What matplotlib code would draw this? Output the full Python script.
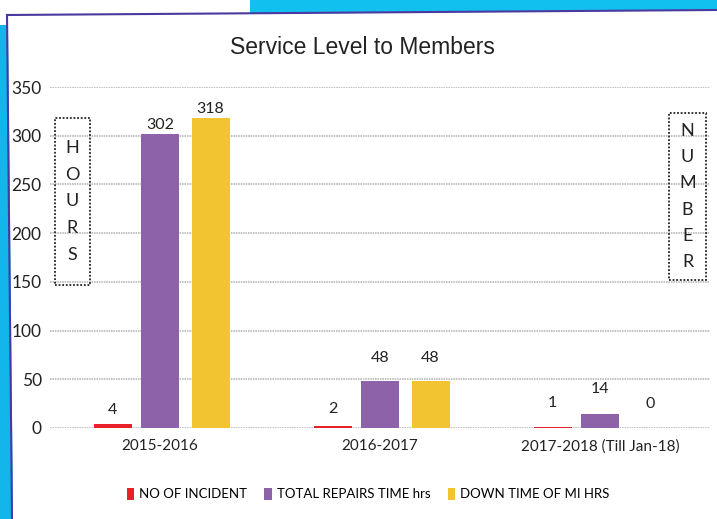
import matplotlib.pyplot as plt
from matplotlib.patches import Rectangle, Polygon
import numpy as np

categories = ['2015-2016', '2016-2017', '2017-2018 (Till Jan-18)']
incidents = [4, 2, 1]
repairs = [302, 48, 14]
downtime = [318, 48, 0]
series_names = ['NO OF INCIDENT', 'TOTAL REPAIRS TIME hrs', 'DOWN TIME OF MI HRS']
colors = ['#e8202a', '#8d62a9', '#f2c431']
yticks = [0, 50, 100, 150, 200, 250, 300, 350]

W, H = 717, 519
fig = plt.figure(figsize=(W / 100, H / 100), dpi=100)
fig.patch.set_facecolor('white')

def px(x, y):
    return x / W, 1 - y / H

# scanned page border (blue edge + frame line)
fig.patches.append(Polygon([px(0, 25), px(8, 25), px(13, 519), px(0, 519)],
                           closed=True, transform=fig.transFigure,
                           facecolor='#12b6ea', edgecolor='none', zorder=0))
fig.patches.append(Polygon([px(250, 0), px(717, 0), px(717, 10), px(250, 14)],
                           closed=True, transform=fig.transFigure,
                           facecolor='#12c0ef', edgecolor='none', zorder=0))
fig.lines.append(plt.Line2D([7 / W, 1], [1 - 15 / H, 1 - 10 / H], transform=fig.transFigure,
                            color='#4a3aa0', lw=1.5))
fig.lines.append(plt.Line2D([7 / W, 12 / W], [1 - 15 / H, 0], transform=fig.transFigure,
                            color='#4a3aa0', lw=1.5))

l, b = px(50, 428)
r, t = px(710, 87)
ax = fig.add_axes([l, b, r - l, t - b])
ax.set_xlim(-0.5, 2.5)
ax.set_ylim(0, 350)
for s in ax.spines.values():
    s.set_visible(False)
ax.set_yticks(yticks)
ax.grid(axis='y', color='#b0b0b0', lw=1.1, ls=(0, (1, 0.6)))
ax.set_axisbelow(True)
ax.tick_params(axis='y', length=0, pad=6, labelsize=12.5, labelcolor='#222222')
ax.tick_params(axis='x', length=0, pad=8, labelsize=11, labelcolor='#222222')
for lab in ax.get_yticklabels():
    lab.set_fontfamily('Lato')

x = np.arange(len(categories))
offsets = [-0.215, 0.0, 0.23]
bw = 0.172
# label gap above bar, points: [series][category]
label_gap = [[5, 7, 12], [1.5, 12, 13], [1.5, 12, 12]]
for k, (vals, off, c, name) in enumerate(zip([incidents, repairs, downtime], offsets, colors, series_names)):
    ax.bar(x + off, vals, width=bw, color=c, label=name)
    for i, (xi, v) in enumerate(zip(x + off, vals)):
        ax.annotate(str(v), (xi, v), xytext=(0, label_gap[k][i]),
                    textcoords='offset points', ha='center', va='bottom',
                    fontsize=11.5, family='Lato', color='#222222')

ax.set_xticks(x)
ax.set_xticklabels(categories, family='Lato')

# HOURS / NUMBER boxes
for (x0, y0, x1, y1, word, m) in [(55, 118, 90, 285, 'HOURS', 30), (669, 113, 706, 280, 'NUMBER', 18)]:
    fx0, fy1 = px(x0, y1)
    fx1, fy0 = px(x1, y0)
    fig.patches.append(Rectangle((fx0, fy1), fx1 - fx0, fy0 - fy1, transform=fig.transFigure,
                                 fill=False, edgecolor='#222222', lw=1.3, ls=(0, (1, 1))))
    n = len(word)
    for i, ch in enumerate(word):
        yy = y0 + m + i * (y1 - y0 - 2 * m) / (n - 1)
        fig.text(*px((x0 + x1) / 2, yy), ch, ha='center', va='center', fontsize=13,
                 family='Lato', color='#222222')

fig.text(*px(362, 47), 'Service Level to Members', ha='center', va='center',
         fontsize=16.5, family='Liberation Sans', color='#222222')

leg = fig.legend(loc='center', bbox_to_anchor=px(368, 494), ncol=3, frameon=False,
                 prop={'family': 'Lato', 'size': 9.5}, handlelength=0.6, handleheight=1.0,
                 handletextpad=0.35, columnspacing=1.3)

fig.savefig('out.png', dpi=100)
